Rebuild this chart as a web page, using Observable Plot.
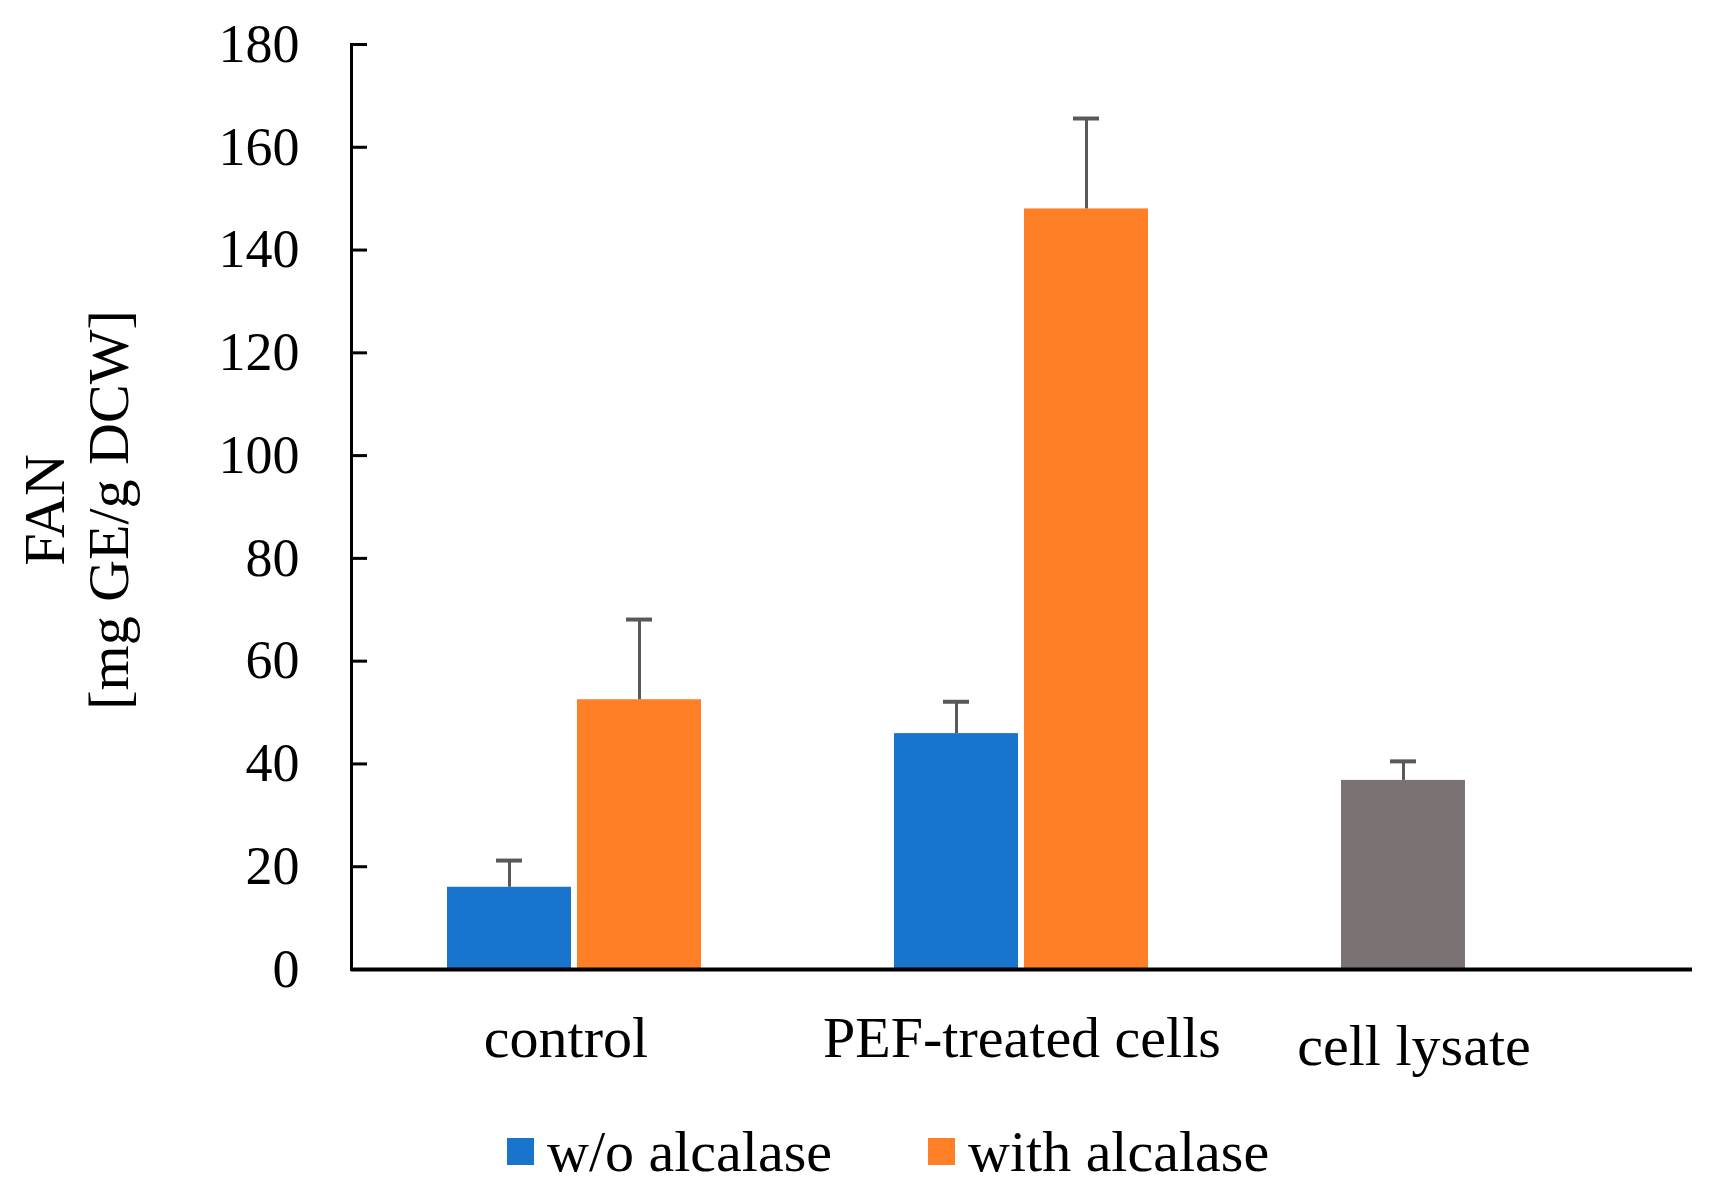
<!DOCTYPE html>
<html>
<head>
<meta charset="utf-8">
<script src="https://cdn.jsdelivr.net/npm/d3@7"></script>
<script src="https://cdn.jsdelivr.net/npm/@observablehq/plot@0.6"></script>
<style>
  body { margin: 0; background: #fff; }
  #chart svg { display: block; }
  .leg-swatches .leg-swatch { margin-right: 96px !important; }
  .leg-swatches .leg-swatch > svg { margin-right: 13px !important; }
</style>
</head>
<body>
<div id="chart"></div>
<script>
const categories = ["control", "PEF-treated cells", "cell lysate"];
const series = ["w/o alcalase", "with alcalase"];
const woValues = [16.0, 45.9, 36.8];
const woErrors = [5.2, 6.2, 3.7];
const withValues = [52.5, 148.0, null];
const withErrors = [15.6, 17.6, null];
const yTicks = [0, 20, 40, 60, 80, 100, 120, 140, 160, 180];
const yLabel = "FAN\n[mg GE/g DCW]";

const font = "'Liberation Serif', 'Times New Roman', serif";
const colors = ["#1874CD", "#FF7F27", "#7B7373"]; // w/o, with, lysate

// one row per bar; the lysate bar sits in the "w/o" slot but is grey
const rows = [];
categories.forEach((c, i) => {
  if (woValues[i] != null) rows.push({category: c, series: series[0], value: woValues[i], err: woErrors[i], shade: c === "cell lysate" ? "lysate" : series[0]});
  if (withValues[i] != null) rows.push({category: c, series: series[1], value: withValues[i], err: withErrors[i], shade: series[1]});
});

// category labels are nudged a little like in the original figure
const catLabel = (c, dx, dy) => Plot.text([c], {fx: d => d, frameAnchor: "bottom", dx, dy, fontSize: 58});

const chart = Plot.plot({
  width: 1713,
  height: 1115,
  marginLeft: 350,
  marginRight: 20,
  marginTop: 44,
  marginBottom: 146,
  style: {fontFamily: font, color: "#000", background: "#fff"},
  fx: {domain: categories, padding: 0, axis: null},
  x: {domain: series, paddingInner: 0.046, paddingOuter: 0.732, axis: null},
  y: {domain: [0, 180], axis: null},
  color: {domain: [...series, "lysate"], range: colors},
  marks: [
    Plot.barY(rows, {fx: "category", x: "series", y: "value", fill: "shade"}),
    Plot.ruleX(rows, {fx: "category", x: "series", y1: "value", y2: d => d.value + d.err, stroke: "#595959", strokeWidth: 3}),
    Plot.tickY(rows, {fx: "category", x: "series", y: d => d.value + d.err, stroke: "#595959", strokeWidth: 4, insetLeft: 49, insetRight: 49}),
    Plot.ruleY([0], {stroke: "#000", strokeWidth: 4}),
    Plot.frame({anchor: "left", facetAnchor: "left", stroke: "#000", strokeWidth: 3}),
    Plot.axisY({
      ticks: yTicks, tickSize: -16, tickPadding: 68, tickFormat: d => d,
      fontSize: 54, strokeWidth: 3, label: null
    }),
    Plot.text([yLabel], {frameAnchor: "left", facetAnchor: "left", textAnchor: "middle", rotate: -90, dx: -276, dy: 3, fontSize: 58, lineHeight: 1.1}),
    catLabel(categories[0], -9, 87),
    catLabel(categories[1], 0, 87),
    catLabel(categories[2], -55, 95)
  ]
});

const legend = Plot.legend({
  color: {type: "ordinal", domain: series, range: colors.slice(0, 2)},
  swatchSize: 27,
  className: "leg",
  style: {fontFamily: font, fontSize: "58px", color: "#000", marginLeft: "507px", marginTop: "3px"}
});

d3.select("#chart").append(() => chart);
d3.select("#chart").append(() => legend);
</script>
</body>
</html>
